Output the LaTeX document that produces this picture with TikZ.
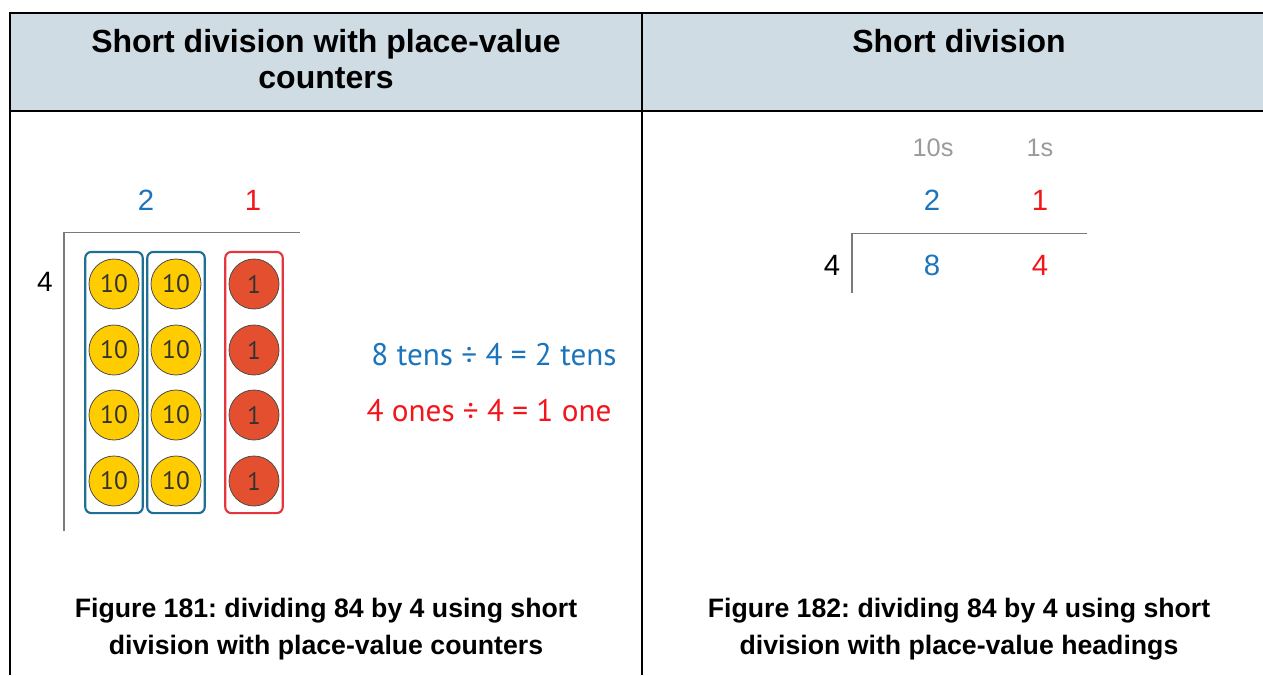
\documentclass[tikz,border=0pt]{standalone}
\usepackage{fontspec}
\setmainfont{Liberation Sans}
\newfontfamily\countfont{PT Sans}
\usetikzlibrary{positioning,fit}

\definecolor{headfill}{HTML}{CFDCE4}
\definecolor{tensblue}{HTML}{1C75BC}
\definecolor{onesred}{HTML}{F4151B}
\definecolor{boxblue}{HTML}{1D6F93}
\definecolor{boxred}{HTML}{E5353D}
\definecolor{coinyellow}{HTML}{FFCC00}
\definecolor{coinred}{HTML}{E4502F}
\definecolor{brackgrey}{HTML}{7A7A7A}
\definecolor{pvgrey}{HTML}{9A9A9A}

\begin{document}
\frenchspacing
\begin{tikzpicture}[x=0.75pt,y=-0.75pt,
 rule/.style={line width=1.5pt,black},
 headtext/.style={font=\bfseries\fontsize{24}{27}\selectfont,align=center},
 captext/.style={font=\bfseries\fontsize{20}{27.5}\selectfont,align=center},
 digit/.style={font=\fontsize{22}{26}\selectfont,inner sep=0pt},
 pvhead/.style={font=\fontsize{19}{22}\selectfont,text=pvgrey,inner sep=0pt},
 coin/.style={circle,draw=black!70,line width=0.6pt,minimum size=37.5pt,inner sep=0pt,
  font=\countfont\fontsize{19}{22}\selectfont,text=black!80},
 ten/.style={coin,fill=coinyellow},
 one/.style={coin,fill=coinred},
 colbox/.style={rounded corners=4.5pt,line width=1.6pt,inner xsep=2.5pt,inner ysep=5pt},
 eqtext/.style={font=\countfont\fontsize{23.4}{28}\selectfont,inner sep=0pt},
 bracket/.style={draw=brackgrey,line width=1.4pt}]
\useasboundingbox (0,0) rectangle (1263,675);

% table frame
\fill[headfill] (9.5,12.5) rectangle (1263,111);
\draw[rule] (1263,12.5) -- (9.5,12.5) -- (9.5,675);
\draw[rule] (9.5,111) -- (1263,111);
\draw[rule] (642,12.5) -- (642,675);

\node[headtext] (headL) at (326,59) {Short division with place-value\\counters};
\node[headtext] (headR) at (959,41) {Short division};

% left panel: counters
\node[digit,text=tensblue] (qtens) at (146,200) {2};
\node[digit,text=onesred] (qones) at (253,200) {1};
\node[digit,font=\fontsize{21}{24}\selectfont] (divL) at (45,282) {4};
\draw[bracket] (64,531) -- (64,232.5) -- (300,232.5);

\foreach \r [count=\i] in {284,350,415,481} {
  \node[ten] (ta-\i) at (114,\r) {10};
  \node[ten] (tb-\i) at (176,\r) {10};
  \node[one] (o-\i) at (254,\r) {1};
}
\node[colbox,draw=boxblue,fit=(ta-1)(ta-4)] (boxA) {};
\node[colbox,draw=boxblue,fit=(tb-1)(tb-4)] (boxB) {};
\node[colbox,draw=boxred,fit=(o-1)(o-4)] (boxC) {};

\node[eqtext,text=tensblue] (eqtens) at (494,355) {8 tens ÷ 4 = 2 tens};
\node[eqtext,text=onesred] (eqones) at (489,411) {4 ones ÷ 4 = 1 one};

\node[captext] (capL) at (326,629) {Figure 181: dividing 84 by 4 using short\\division with place-value counters};

% right panel: headings
\node[pvhead] (hten) at (933,148) {10s};
\node[pvhead] (hone) at (1040,148) {1s};
\node[digit,text=tensblue] (rtens) at (932,200) {2};
\node[digit,text=onesred] (rones) at (1040,200) {1};
\node[digit] (divR) at (832,265) {4};
\node[digit,text=tensblue] (dtens) at (932,265) {8};
\node[digit,text=onesred] (dones) at (1040,265) {4};
\draw[bracket] (852,293) -- (852,233.5) -- (1087,233.5);

\node[captext] (capR) at (959,629) {Figure 182: dividing 84 by 4 using short\\division with place-value headings};
\end{tikzpicture}
\end{document}
